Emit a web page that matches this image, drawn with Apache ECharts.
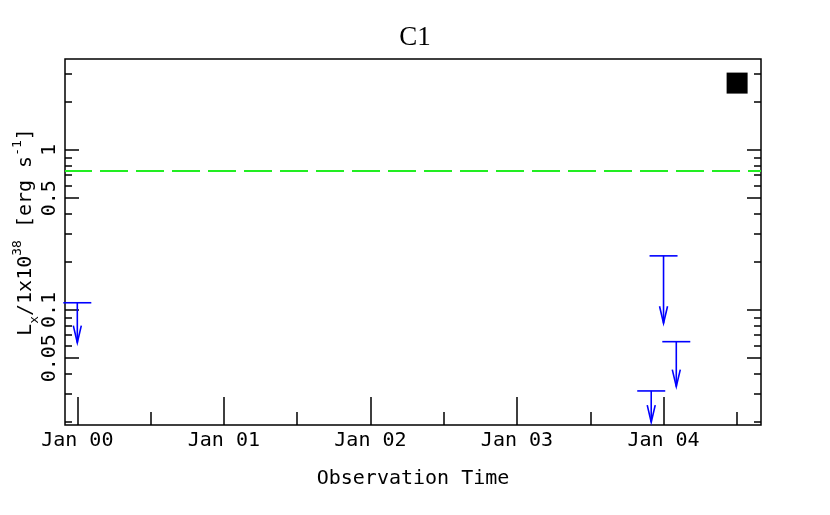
<!DOCTYPE html>
<html>
<head>
<meta charset="utf-8">
<title>C1</title>
<script src="https://cdn.jsdelivr.net/npm/echarts@6/dist/echarts.min.js"></script>
<style>
html, body { margin: 0; padding: 0; background: #fff; }
#chart { width: 830px; height: 515px; }
</style>
</head>
<body>
<div id="chart"></div>
<script>
// time in years since Jan 2000
var limitTimes = [0.0, 4.0, 4.087, 3.916];
var limitValues = [0.111, 0.218, 0.0634, 0.0312];
var arrowTips = [0.0625, 0.0826, 0.0332, 0.0199];
var detTimes = [4.502];
var detValues = [2.62];
var refLevel = 0.743;

var yearTicks = [0, 1, 2, 3, 4];
var halfYearTicks = [0.5, 1.5, 2.5, 3.5, 4.5];
var yLabelTicks = [0.05, 0.1, 0.5, 1];
var yMinorTicks = [0.02, 0.03, 0.04, 0.06, 0.07, 0.08, 0.09, 0.2, 0.3, 0.4, 0.6, 0.7, 0.8, 0.9, 2, 3];
var xRange = [-0.084, 4.665];
var yRange = [0.01911, 3.706];

var FONT = 'DejaVu Sans Mono';
var lg = function (v) { return Math.log10(v); };

var myChart = echarts.init(document.getElementById('chart'));

function tickAxis(pos, values, len, labels) {
    return {
        type: 'value',
        position: pos,
        min: lg(yRange[0]),
        max: lg(yRange[1]),
        axisLine: { show: false, onZero: false },
        splitLine: { show: false },
        axisTick: {
            show: true, inside: true, length: len,
            customValues: values.map(lg),
            lineStyle: { color: '#000', width: 1.5 }
        },
        axisLabel: labels ? {
            show: true,
            customValues: values.map(lg),
            rotate: 90,
            margin: 5,
            fontFamily: FONT, fontSize: 20, color: '#000',
            formatter: function (v) { return String(+Math.pow(10, v).toPrecision(3)); }
        } : { show: false }
    };
}

var yMain = tickAxis('left', yLabelTicks, 14, true);
yMain.name = '{m|L}{sub|x}{m|/1x10}{sup|38}{m| [erg s}{sup|-1}{m|]}';
yMain.nameLocation = 'middle';
yMain.nameRotate = 90;
yMain.nameGap = 24;
yMain.nameMoveOverlap = false;
yMain.nameTextStyle = {
    fontFamily: FONT, fontSize: 20, color: '#000',
    padding: [0, 0, 0, 20],
    rich: {
        m: { fontFamily: FONT, fontSize: 20, lineHeight: 30, color: '#000' },
        sub: { fontFamily: FONT, fontSize: 13, lineHeight: 22, verticalAlign: 'bottom', color: '#000' },
        sup: { fontFamily: FONT, fontSize: 13, lineHeight: 12, verticalAlign: 'top', color: '#000' }
    }
};

function xAxisOf(values, len, labels) {
    return {
        type: 'value',
        position: 'bottom',
        min: xRange[0],
        max: xRange[1],
        axisLine: { show: false, onZero: false },
        splitLine: { show: false },
        axisTick: {
            show: true, inside: true, length: len,
            customValues: values,
            lineStyle: { color: '#000', width: 1.5 }
        },
        axisLabel: labels ? {
            show: true,
            customValues: values,
            margin: 6,
            fontFamily: FONT, fontSize: 20, color: '#000',
            formatter: function (v) { return 'Jan 0' + Math.round(v); }
        } : { show: false }
    };
}

var xMain = xAxisOf(yearTicks, 28, true);
xMain.name = 'Observation Time';
xMain.nameLocation = 'middle';
xMain.nameGap = 44;
xMain.nameMoveOverlap = false;
xMain.nameTextStyle = { fontFamily: FONT, fontSize: 20, color: '#000' };

var limitData = limitTimes.map(function (t, i) {
    return [t, lg(limitValues[i]), lg(arrowTips[i])];
});
var detData = detTimes.map(function (t, i) { return [t, lg(detValues[i])]; });

var option = {
    animation: false,
    backgroundColor: '#fff',
    title: {
        text: 'C1',
        left: 'center',
        top: 19,
        textStyle: { fontFamily: 'Liberation Serif', fontSize: 27, fontWeight: 'normal', color: '#000' }
    },
    grid: {
        left: 65, right: 69, top: 59, bottom: 90,
        outerBoundsMode: 'none',
        show: true, borderColor: '#000', borderWidth: 1.5
    },
    xAxis: [xMain, xAxisOf(halfYearTicks, 13, false)],
    yAxis: [
        yMain,
        tickAxis('left', yMinorTicks, 7, false),
        tickAxis('right', yLabelTicks, 14, false),
        tickAxis('right', yMinorTicks, 7, false)
    ],
    series: [
        {
            type: 'custom',
            xAxisIndex: 0, yAxisIndex: 0,
            data: limitData,
            encode: { x: 0, y: [1, 2] },
            renderItem: function (params, api) {
                var top = api.coord([api.value(0), api.value(1)]);
                var tip = api.coord([api.value(0), api.value(2)]);
                var st = { stroke: '#0000ff', lineWidth: 1.6, fill: null };
                return {
                    type: 'group',
                    children: [
                        { type: 'line', shape: { x1: top[0] - 14, y1: top[1], x2: top[0] + 14, y2: top[1] }, style: st },
                        { type: 'line', shape: { x1: top[0], y1: top[1], x2: tip[0], y2: tip[1] }, style: st },
                        { type: 'polyline', shape: { points: [[tip[0] - 4, tip[1] - 17], [tip[0], tip[1]], [tip[0] + 4, tip[1] - 17]] }, style: st }
                    ]
                };
            }
        },
        {
            type: 'scatter',
            xAxisIndex: 0, yAxisIndex: 0,
            data: detData,
            symbol: 'rect',
            symbolSize: 21,
            itemStyle: { color: '#000', opacity: 1 },
            markLine: {
                silent: true,
                symbol: ['none', 'none'],
                label: { show: false },
                lineStyle: { color: '#22ee22', width: 2, type: [28, 8], dashOffset: 1 },
                data: [{ yAxis: lg(refLevel) }]
            }
        }
    ]
};

myChart.setOption(option);
</script>
</body>
</html>
